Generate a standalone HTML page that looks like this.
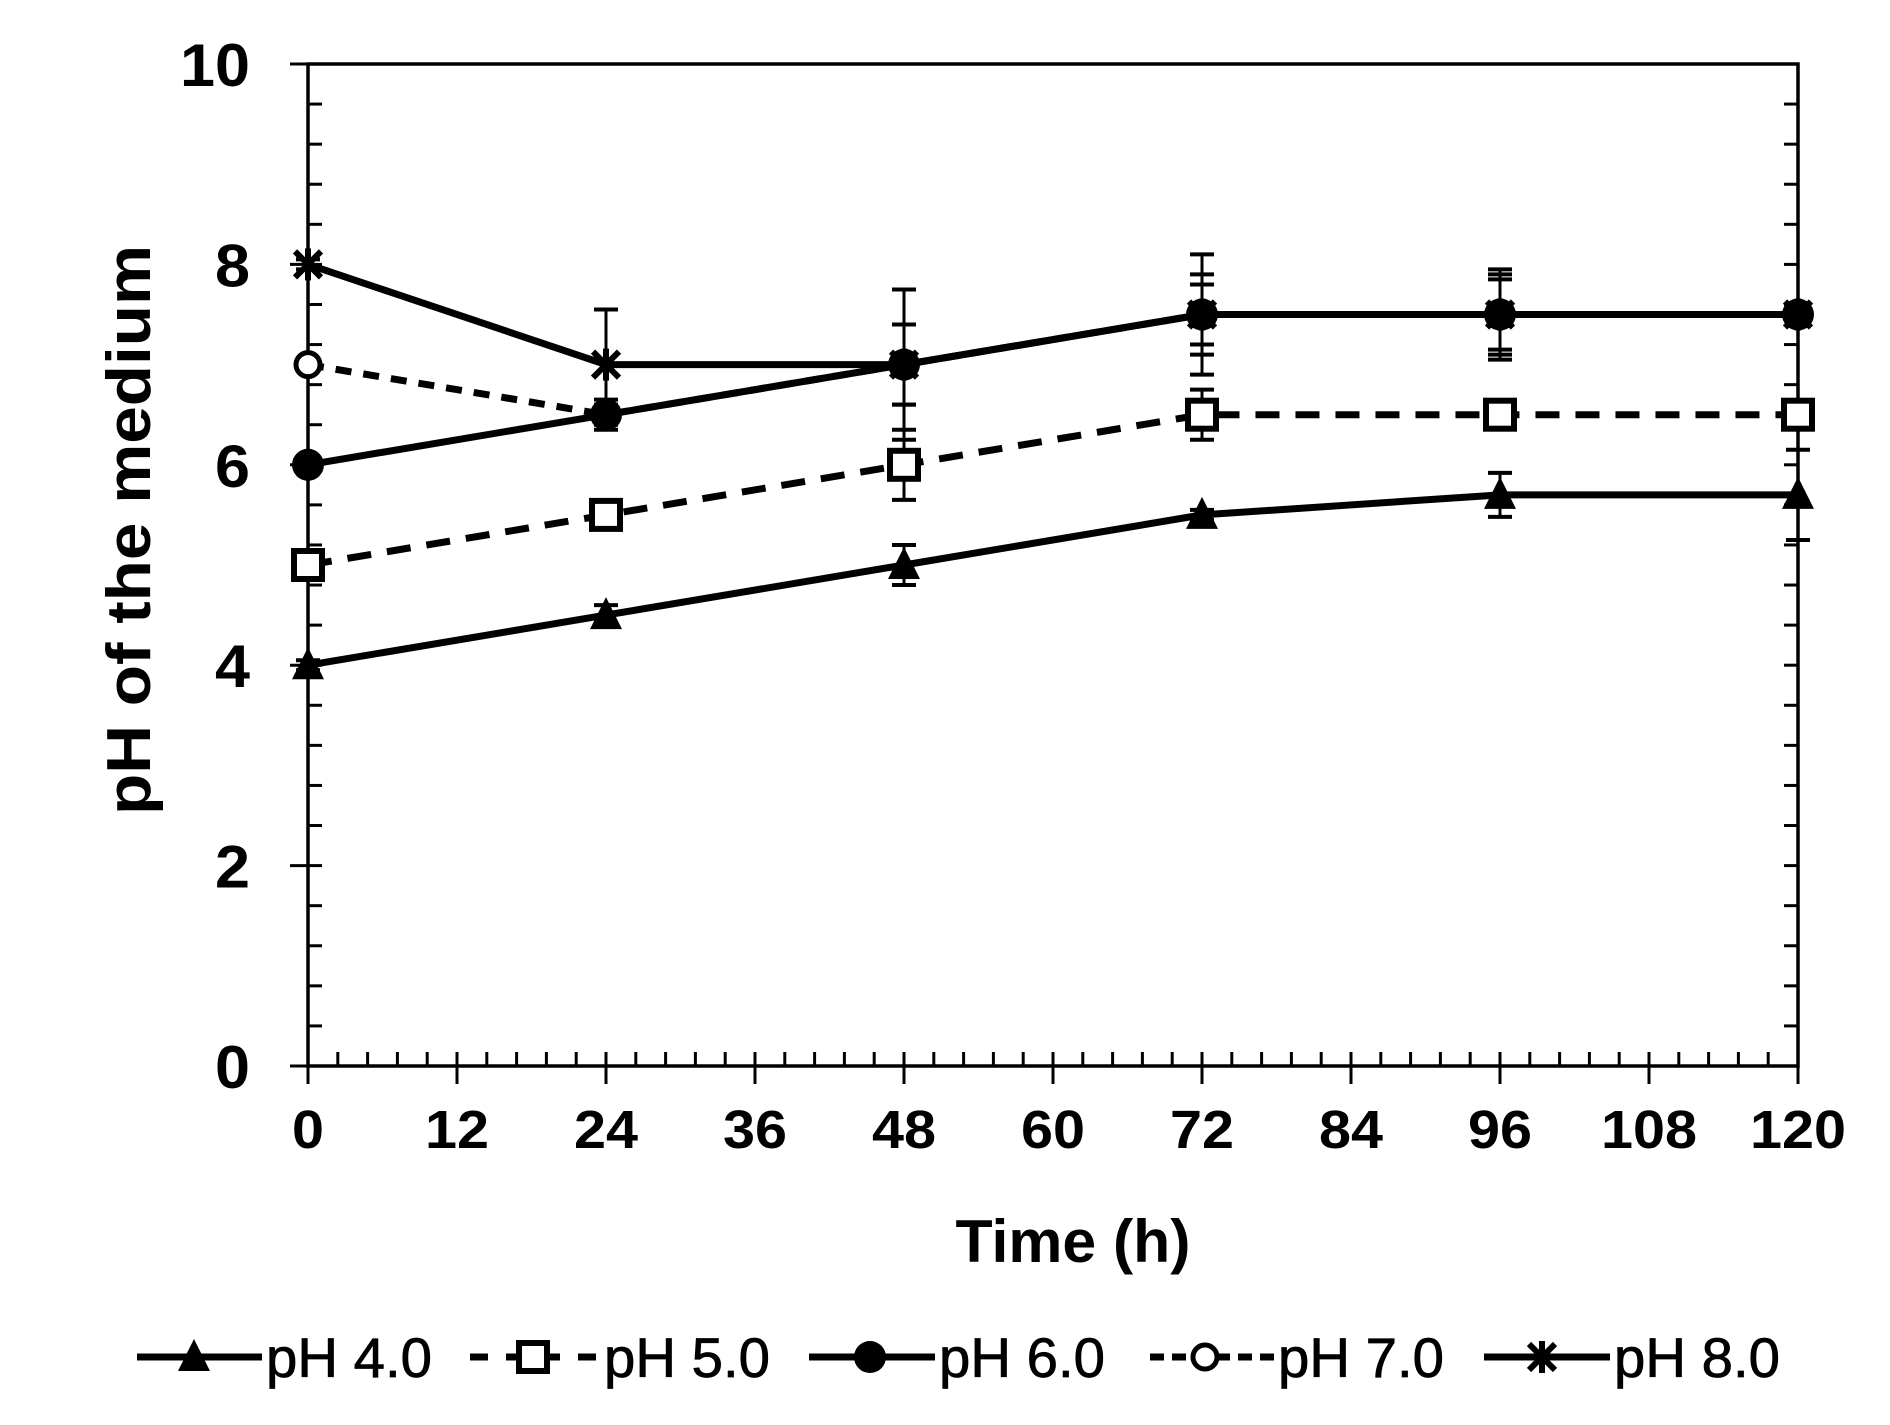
<!DOCTYPE html>
<html><head><meta charset="utf-8"><style>html,body{margin:0;padding:0;background:#fff}svg{display:block}</style></head>
<body>
<svg id="chart" width="1890" height="1425" viewBox="0 0 1890 1425" xmlns="http://www.w3.org/2000/svg" font-family="'Liberation Sans', Arial, sans-serif">
<rect width="1890" height="1425" fill="#fff"/>
<g id="grid"></g>
<g id="series"></g>
<g id="legend"></g>
<text x="1073" y="1262" font-size="60" font-weight="bold" text-anchor="middle" textLength="235" lengthAdjust="spacingAndGlyphs">Time (h)</text>
<text transform="translate(150,530) rotate(-90)" font-size="62" font-weight="bold" text-anchor="middle" textLength="570" lengthAdjust="spacingAndGlyphs">pH of the medium</text>
</svg>
<script>
const times = [0, 24, 48, 72, 96, 120];
const xTicks = [0, 12, 24, 36, 48, 60, 72, 84, 96, 108, 120];
const yTicks = [0, 2, 4, 6, 8, 10];
const seriesNames = ["pH 4.0", "pH 5.0", "pH 6.0", "pH 7.0", "pH 8.0"];
const ph4 = [4.0, 4.5, 5.0, 5.5, 5.7, 5.7];
const ph5 = [5.0, 5.5, 6.0, 6.5, 6.5, 6.5];
const ph6 = [6.0, 6.5, 7.0, 7.5, 7.5, 7.5];
const ph7 = [7.0, 6.5, 7.0, 7.5, 7.5, 7.5];
const ph8 = [8.0, 7.0, 7.0, 7.5, 7.5, 7.5];
const err4 = [0.05, 0.1, 0.2, 0.05, 0.22, 0.45];
const err5 = [0.05, 0.05, 0.35, 0.25, 0.05, 0.05];
const err6 = [0.05, 0.1, 0.4, 0.3, 0.35, 0.1];
const err7 = [0.05, 0.15, 0.4, 0.4, 0.4, 0.1];
const err8 = [0.05, 0.55, 0.75, 0.6, 0.45, 0.1];

const NS = "http://www.w3.org/2000/svg";
const X0 = 308, X1 = 1798, Y0 = 1066, Y1 = 64;
const xs = t => X0 + (t - 0) / 120 * (X1 - X0);
const ys = v => Y0 - v / 10 * (Y0 - Y1);
function mk(tag, attrs, parent) {
  const e = document.createElementNS(NS, tag);
  for (const k in attrs) e.setAttribute(k, attrs[k]);
  parent.appendChild(e);
  return e;
}
const grid = document.getElementById('grid');
const sg = document.getElementById('series');
const lg = document.getElementById('legend');

const frame = mk('rect', {x: X0, y: Y1, width: X1 - X0, height: Y0 - Y1, fill: 'none', stroke: '#000', 'stroke-width': 3.5}, grid);



for (let v = 0; v <= 10.001; v += 0.4) {
  mk('line', {x1: X0, x2: X0 + 14, y1: ys(v), y2: ys(v), stroke: '#000', 'stroke-width': 3}, grid);
  mk('line', {x1: X1, x2: X1 - 14, y1: ys(v), y2: ys(v), stroke: '#000', 'stroke-width': 3}, grid);
}
yTicks.forEach(v => {
  mk('line', {x1: X0 - 18, x2: X0, y1: ys(v), y2: ys(v), stroke: '#000', 'stroke-width': 3}, grid);
  const t = mk('text', {x: X0 - 58, y: ys(v) + 22, 'font-size': 60, 'font-weight': 'bold', 'text-anchor': 'end', textLength: v >= 10 ? 70 : 35, lengthAdjust: 'spacingAndGlyphs'}, grid);
  t.textContent = v;
  
  
});
for (let t = 0; t <= 120.001; t += 2.4) {
  mk('line', {x1: xs(t), x2: xs(t), y1: Y0, y2: Y0 - 14, stroke: '#000', 'stroke-width': 3}, grid);
}
xTicks.forEach(t => {
  mk('line', {x1: xs(t), x2: xs(t), y1: Y0, y2: Y0 + 18, stroke: '#000', 'stroke-width': 3}, grid);
  const s = String(t);
  const tx = mk('text', {x: xs(t), y: Y0 + 82, 'font-size': 54, 'font-weight': 'bold', 'text-anchor': 'middle', textLength: s.length * 32, lengthAdjust: 'spacingAndGlyphs'}, grid);
  tx.textContent = s;
  
  
});

function marker(type, x, y, parent, s) {
  s = s || 1;
  if (type === 'tri') return mk('polygon', {points: `${x},${y-18*s} ${x+16*s},${y+14*s} ${x-16*s},${y+14*s}`, fill: '#000'}, parent);
  if (type === 'sq') return mk('rect', {x: x-14*s, y: y-14*s, width: 28*s, height: 28*s, fill: '#fff', stroke: '#000', 'stroke-width': 6}, parent);
  if (type === 'dot') return mk('circle', {cx: x, cy: y, r: 16*s, fill: '#000'}, parent);
  if (type === 'circ') return mk('circle', {cx: x, cy: y, r: 12*s, fill: '#fff', stroke: '#000', 'stroke-width': 5}, parent);
  const g = mk('g', {stroke: '#000', 'stroke-width': 6}, parent);
  mk('line', {x1: x-13*s, y1: y-13*s, x2: x+13*s, y2: y+13*s}, g);
  mk('line', {x1: x-13*s, y1: y+13*s, x2: x+13*s, y2: y-13*s}, g);
  mk('line', {x1: x, y1: y-16*s, x2: x, y2: y+16*s}, g);
  return g;
}
const defs = [
  {name: 'series-ph4', d: ph4, e: err4, m: 'tri', dash: null},
  {name: 'series-ph5', d: ph5, e: err5, m: 'sq', dash: '24,16'},
  {name: 'series-ph7', d: ph7, e: err7, m: 'circ', dash: '16,12'},
  {name: 'series-ph6', d: ph6, e: err6, m: 'dot', dash: null},
  {name: 'series-ph8', d: ph8, e: err8, m: 'star', dash: null}
];
defs.forEach(s => {
  const g = mk('g', {}, sg);
  
  
  s.d.forEach((v, i) => {
    const x = xs(times[i]), e = s.e[i];
    mk('line', {x1: x, x2: x, y1: ys(v + e), y2: ys(v - e), stroke: '#000', 'stroke-width': 3}, g);
    mk('line', {x1: x - 12, x2: x + 12, y1: ys(v + e), y2: ys(v + e), stroke: '#000', 'stroke-width': 4}, g);
    mk('line', {x1: x - 12, x2: x + 12, y1: ys(v - e), y2: ys(v - e), stroke: '#000', 'stroke-width': 4}, g);
  });
  const pts = s.d.map((v, i) => xs(times[i]) + ',' + ys(v)).join(' ');
  const pl = mk('polyline', {points: pts, fill: 'none', stroke: '#000', 'stroke-width': 7}, g);
  if (s.dash) pl.setAttribute('stroke-dasharray', s.dash);
  s.d.forEach((v, i) => {
    const m = marker(s.m, xs(times[i]), ys(v), g);
    
    
  });
});

const legItems = [
  {m: 'tri', dash: null, lx: 137, mx: 194, tx: 266},
  {m: 'sq', dash: '18,18', lx: 470, mx: 533, tx: 604},
  {m: 'dot', dash: null, lx: 809, mx: 870, tx: 939},
  {m: 'circ', dash: '14,8', lx: 1150, mx: 1205, tx: 1278},
  {m: 'star', dash: null, lx: 1484, mx: 1542, tx: 1614}
];
const LY = 1357;
legItems.forEach((it, i) => {
  const g = mk('g', {}, lg);
  
  
  const ln = mk('line', {x1: it.lx, x2: it.tx - 4, y1: LY, y2: LY, stroke: '#000', 'stroke-width': 7}, g);
  if (it.dash) ln.setAttribute('stroke-dasharray', it.dash);
  marker(it.m, it.mx, LY, g, 1);
  const t = mk('text', {x: it.tx, y: LY + 20, 'font-size': 56, textLength: 166, lengthAdjust: 'spacingAndGlyphs', stroke: '#000', 'stroke-width': 0.8}, g);
  t.textContent = seriesNames[i];
});
</script>
</body></html>
